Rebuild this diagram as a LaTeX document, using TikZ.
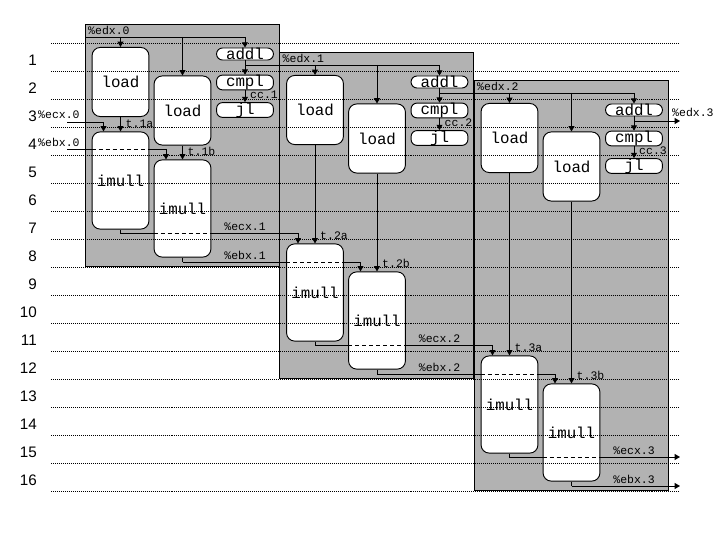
\documentclass[tikz,border=0pt]{standalone}
\usepackage{fontspec}
\setmainfont{Liberation Sans}
\newfontfamily\courfam{Liberation Mono}
\usetikzlibrary{arrows.meta,calc}
\newcommand\opfont{\courfam\fontsize{13.5}{13.5}\selectfont}
\newcommand\regfont{\courfam\fontsize{9.8}{10}\selectfont}
\tikzset{
    opbox/.style={draw, fill=white, rounded corners=7pt, font=\opfont,
        inner sep=0pt, minimum width=48.5pt, line width=0.8pt},
    pillbox/.style={opbox, rounded corners=5pt, minimum height=10.2pt},
    regtag/.style={font=\regfont, inner sep=0pt},
    rowtag/.style={font=\fontsize{13}{13}\selectfont, inner sep=0pt, anchor=east},
    iterframe/.style={draw, fill=black!30, line width=0.8pt},
    rowline/.style={line width=0.6pt, dash pattern=on 0.6pt off 1.1pt},
    flow/.style={line width=0.8pt},
    flowarrow/.style={flow, -{Triangle[width=5pt,length=4.5pt]}},
    hidden/.style={flow, dash pattern=on 3.5pt off 2.5pt}
}

\begin{document}
\begin{tikzpicture}[x=0.03cm, y=-0.03cm]
\useasboundingbox (0,0) rectangle (720,540);

% register inputs
\coordinate (edx0) at (85,37);
\coordinate (ecxB0) at (67,122);
\coordinate (ebx0) at (67,149.5);
\coordinate (rhs) at (680,0);
\node[regtag, anchor=south west] (ecxtag0) at (38,119) {\%ecx.0};
\node[regtag, anchor=south west] (ebxtag0) at (38,147) {\%ebx.0};

% one frame per loop iteration
\foreach \i/\n in {0/1,1/2,2/3}{
  \pgfmathsetmacro\dx{194.5*\i}
  \pgfmathsetmacro\dy{28*\i}
  \pgfmathsetmacro\dm{112*\i}
  \draw[iterframe] (85+\dx,24+\dy) rectangle (279+\dx,266+\dm);
  \node[opbox, minimum height=59pt] (ldA\i) at (120.5+\dx,82+\dy) {load};
  \node[opbox, minimum height=59pt] (ldB\i) at (182.5+\dx,110.5+\dy) {load};
  \node[pillbox] (addl\i) at (245+\dx,54+\dy) {addl};
  \node[pillbox] (cmpl\i) at (245+\dx,82.5+\dy) {cmpl};
  \node[pillbox] (jl\i) at (245+\dx,110+\dy) {jl};
  \node[opbox, minimum height=83pt] (mulA\i) at (120.5+\dx,180.5+\dm) {imull};
  \node[opbox, minimum height=83pt] (mulB\i) at (182.5+\dx,208.5+\dm) {imull};
  \coordinate (edx\n) at (245+\dx,65+\dy);
  \coordinate (ecx\n) at (120.5+\dx,233+\dm);
  \coordinate (ebx\n) at (182.5+\dx,262+\dm);
  \node[regtag, anchor=south west] (edxtag\i) at (88+\dx,35+\dy) {\%edx.\i};
  \node[regtag, anchor=south east] (ecxtag\n) at (266+\dx,231+\dm) {\%ecx.\n};
  \node[regtag, anchor=south east] (ebxtag\n) at (266+\dx,260+\dm) {\%ebx.\n};
  % %edx feeds both loads and addl
  \draw[flow] (edx\i) -- (edx\i -| addl\i.north);
  \draw[flowarrow] (edx\i -| ldA\i.north) -- (ldA\i.north);
  \draw[flowarrow] (edx\i -| ldB\i.north) -- (ldB\i.north);
  \draw[flowarrow] (edx\i -| addl\i.north) -- (addl\i.north);
  \draw[flowarrow] (addl\i) -- (cmpl\i);
  \draw[flowarrow] (cmpl\i) -- (jl\i);
  \node[regtag, anchor=south west] (cc\n) at ($(jl\i.north)+(5,-3)$) {cc.\n};
  % loaded values into the multiplies
  \draw[flowarrow] (ldA\i) -- (mulA\i);
  \draw[flowarrow] (ldB\i) -- (mulB\i);
  \node[regtag, anchor=south west] (tA\n) at ($(mulA\i.north)+(5,-4)$) {t.\n a};
  \node[regtag, anchor=south west] (tB\n) at ($(mulB\i.north)+(5,-4)$) {t.\n b};
  % %ecx in
  \draw[flowarrow] (ecxB\i) -| ($(mulA\i.north)+(-17,0)$);
  % %ebx in, passing over the first imull
  \draw[flow] (ebx\i) -- (ebx\i -| mulA\i.west);
  \draw[hidden] (ebx\i -| mulA\i.west) -- (ebx\i -| mulA\i.east);
  \draw[flowarrow] (ebx\i -| mulA\i.east) -| ($(mulB\i.north)+(-16.5,0)$);
  % products out
  \draw[flow] (mulA\i) -- (ecx\n) -- (ecx\n -| mulB\i.west);
  \draw[hidden] (ecx\n -| mulB\i.west) -- (ecx\n -| mulB\i.east);
  \coordinate (ecxB\n) at (ecx\n -| mulB\i.east);
  \draw[flow] (mulB\i) -- (ebx\n);
}

% register outputs
\draw[flowarrow] (edx3) -- (edx3 -| rhs);
\draw[flowarrow] (ecxB3) -- (ecxB3 -| rhs);
\draw[flowarrow] (ebx3) -- (ebx3 -| rhs);
\node[regtag, anchor=south west] (edxtag3) at (672,117) {\%edx.3};

% cycle rows
\foreach \k in {0,...,16}
  \draw[rowline] (51,{43+28*\k}) -- (680,{43+28*\k});
\foreach \r in {1,...,16}
  \node[rowtag] (row\r) at (37,{32+28*\r}) {\r};
\end{tikzpicture}
\end{document}
